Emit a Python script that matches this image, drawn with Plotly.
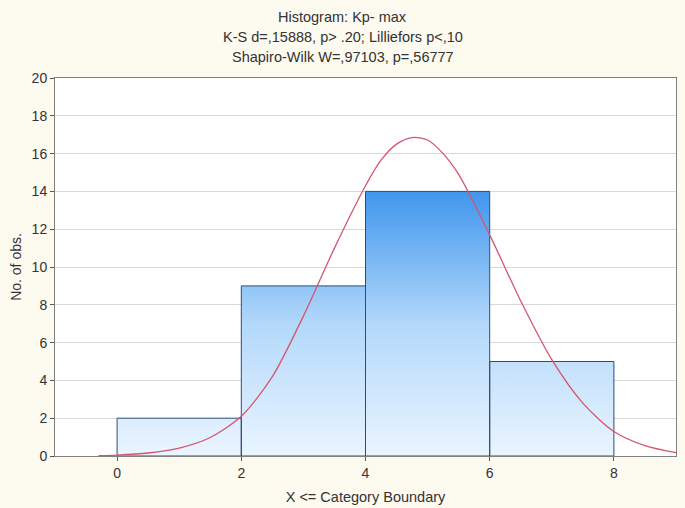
import plotly.graph_objects as go

# ---- data ----
bin_edges = [0, 2, 4, 6, 8]
counts = [2, 9, 14, 5]

curve_x = [-0.3, 0.0, 0.5, 1.0, 1.5, 2.0, 2.5, 3.0, 3.5, 4.0, 4.25, 4.5, 4.75, 5.0, 5.25, 5.5, 6.0, 6.5, 7.0, 7.5, 8.0, 8.5, 9.0]
curve_y = [0.02, 0.05, 0.16, 0.42, 0.98, 2.1, 4.2, 7.4, 11.0, 14.3, 15.65, 16.5, 16.85, 16.72, 16.0, 14.9, 11.7, 8.2, 5.1, 2.8, 1.3, 0.55, 0.18]

x_ticks = [0, 2, 4, 6, 8]
y_ticks = list(range(0, 21, 2))

title_lines = [
    "Histogram: Kp- max",
    "K-S d=,15888, p> .20; Lilliefors p<,10",
    "Shapiro-Wilk W=,97103, p=,56777",
]

# ---- build bar polygons from the data ----
px, py = [], []
width = bin_edges[1] - bin_edges[0]
for i, c in enumerate(counts):
    x0, x1 = bin_edges[i], bin_edges[i] + width
    px += [x0, x0, x1, x1, x0, None]
    py += [0, c, c, 0, 0, None]

fig = go.Figure()
fig.add_trace(go.Scatter(
    x=px, y=py, mode="lines", fill="toself",
    line=dict(color="#2c4d7a", width=1),
    fillgradient=dict(
        type="vertical", start=0, stop=14,
        colorscale=[[0, "#eaf5ff"], [0.5, "#b3d8fa"], [0.65, "#8fc4f6"], [1, "#4096ed"]],
    ),
    hoverinfo="skip", showlegend=False,
))
fig.add_trace(go.Scatter(
    x=curve_x, y=curve_y, mode="lines",
    line=dict(color="#d4566c", width=1.3, shape="spline", smoothing=0.8),
    showlegend=False,
))

font = "Liberation Sans, Arial, sans-serif"
for t, sh in zip(title_lines, [61, 41, 21]):
    fig.add_annotation(text=t, xref="paper", yref="paper", x=0.463, y=1,
                       xanchor="center", yanchor="middle", yshift=sh,
                       showarrow=False, font=dict(family=font, size=14.5, color="#333333"))

fig.update_layout(
    width=685, height=508,
    margin=dict(l=55, r=9, t=78, b=52, autoexpand=False),
    paper_bgcolor="#fdfaf0", plot_bgcolor="white",
    font=dict(family=font, size=14, color="#333333"),
    xaxis=dict(range=[-1, 9], tickvals=x_ticks, showgrid=False, zeroline=False,
               showline=True, linecolor="#7f7f7f", linewidth=1, mirror=True,
               ticks="outside", ticklen=4, tickcolor="#555555", automargin=False,
               title=dict(text="X <= Category Boundary", font=dict(size=14.5), standoff=12)),
    yaxis=dict(range=[0, 20], tickvals=y_ticks, showgrid=True, gridcolor="#d9d9d9",
               zeroline=False, showline=True, linecolor="#7f7f7f", linewidth=1, mirror=True,
               ticks="outside", ticklen=4, tickcolor="#555555", automargin=False,
               title=dict(text="No. of obs.", font=dict(size=14), standoff=6)),
)

fig.write_html("out.html", config={"displayModeBar": False},
               post_script="document.body.style.margin='0px';")
